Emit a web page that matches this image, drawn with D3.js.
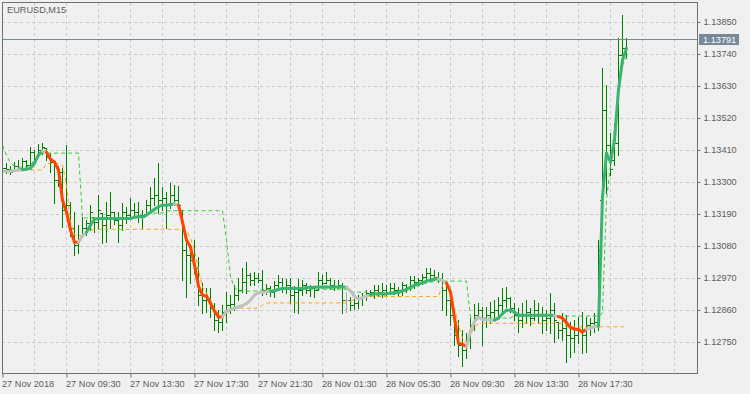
<!DOCTYPE html>
<html><head><meta charset="utf-8">
<script src="https://cdn.jsdelivr.net/npm/d3@7"></script>
<style>
html,body{margin:0;padding:0;background:#f0f0f0;overflow:hidden;}
svg{display:block;}
</style></head><body>
<svg id="chart" width="750" height="394"></svg>
<script>
// ---------------- DATA ----------------
const symbolTitle = "EURUSD,M15";
const timeLabels = ["27 Nov 2018","27 Nov 09:30","27 Nov 13:30","27 Nov 17:30","27 Nov 21:30","28 Nov 01:30","28 Nov 05:30","28 Nov 09:30","28 Nov 13:30","28 Nov 17:30"];
const timeLabelBars = [0,16,32,48,64,80,96,112,128,144];
const priceTicks = [1.12750,1.12860,1.12970,1.13080,1.13190,1.13300,1.13410,1.13520,1.13630,1.13740,1.13850];
const lastPrice = 1.13791;

const open = [1.13360,1.13349,1.13343,1.13339,1.13356,1.13349,1.13373,1.13360,1.13404,1.13391,
 1.13411,1.13418,1.13387,1.13370,1.13308,1.13336,1.13205,1.13222,1.13143,1.13085,
 1.13112,1.13143,1.13160,1.13181,1.13164,1.13195,1.13153,1.13188,1.13198,1.13171,
 1.13153,1.13198,1.13188,1.13205,1.13198,1.13188,1.13191,1.13222,1.13246,1.13257,
 1.13239,1.13246,1.13222,1.13257,1.13239,1.13205,1.13067,1.13050,1.13033,1.13006,
 1.12913,1.12896,1.12902,1.12868,1.12827,1.12820,1.12854,1.12878,1.12882,1.12913,
 1.12930,1.12957,1.12982,1.12964,1.12971,1.12964,1.12930,1.12937,1.12923,1.12947,
 1.12957,1.12937,1.12947,1.12913,1.12923,1.12930,1.12947,1.12930,1.12937,1.12930,
 1.12964,1.12954,1.12964,1.12947,1.12940,1.12947,1.12896,1.12896,1.12878,1.12885,
 1.12902,1.12909,1.12920,1.12923,1.12930,1.12923,1.12930,1.12923,1.12937,1.12930,
 1.12927,1.12947,1.12940,1.12964,1.12957,1.12964,1.12975,1.12988,1.12982,1.12975,
 1.12971,1.12930,1.12896,1.12844,1.12775,1.12741,1.12724,1.12758,1.12810,1.12844,
 1.12861,1.12834,1.12844,1.12854,1.12861,1.12878,1.12896,1.12902,1.12868,1.12844,
 1.12827,1.12844,1.12854,1.12834,1.12861,1.12844,1.12827,1.12834,1.12861,1.12820,
 1.12792,1.12799,1.12775,1.12765,1.12775,1.12792,1.12775,1.12810,1.12817,1.12820,
 1.13239,1.13549,1.13428,1.13377,1.13435,1.13738,1.13762];

const high = [1.13384,1.13367,1.13356,1.13370,1.13377,1.13384,1.13377,1.13422,1.13411,1.13432,
 1.13435,1.13418,1.13401,1.13370,1.13356,1.13349,1.13428,1.13233,1.13198,1.13153,
 1.13181,1.13171,1.13222,1.13181,1.13257,1.13195,1.13233,1.13267,1.13198,1.13198,
 1.13229,1.13215,1.13246,1.13229,1.13233,1.13205,1.13239,1.13284,1.13315,1.13367,
 1.13284,1.13267,1.13298,1.13291,1.13288,1.13205,1.13102,1.13085,1.13102,1.13043,
 1.12954,1.12937,1.12937,1.12885,1.12861,1.12878,1.12923,1.12913,1.12947,1.12971,
 1.13006,1.13026,1.12988,1.12992,1.12988,1.12999,1.12951,1.12944,1.12961,1.12982,
 1.12971,1.12968,1.12971,1.12944,1.12968,1.12964,1.12954,1.12947,1.12940,1.12992,
 1.12982,1.12992,1.12971,1.12964,1.12964,1.12954,1.12923,1.12906,1.12899,1.12913,
 1.12920,1.12930,1.12930,1.12947,1.12947,1.12954,1.12947,1.12954,1.12954,1.12940,
 1.12957,1.12951,1.12978,1.12978,1.12971,1.12985,1.13006,1.13006,1.12999,1.12992,
 1.12988,1.12957,1.12913,1.12868,1.12827,1.12792,1.12782,1.12834,1.12882,1.12885,
 1.12872,1.12872,1.12889,1.12896,1.12906,1.12937,1.12940,1.12906,1.12885,1.12868,
 1.12885,1.12896,1.12868,1.12896,1.12885,1.12872,1.12861,1.12920,1.12885,1.12820,
 1.12851,1.12844,1.12820,1.12827,1.12837,1.12854,1.12837,1.12834,1.12851,1.13102,
 1.13693,1.13635,1.13470,1.13504,1.13796,1.13875,1.13796];

const low = [1.13343,1.13332,1.13329,1.13339,1.13343,1.13349,1.13349,1.13349,1.13367,1.13391,
 1.13398,1.13377,1.13336,1.13229,1.13288,1.13147,1.13188,1.13116,1.13050,1.13057,
 1.13112,1.13119,1.13136,1.13129,1.13143,1.13092,1.13095,1.13143,1.13157,1.13095,
 1.13136,1.13160,1.13178,1.13181,1.13164,1.13143,1.13191,1.13205,1.13222,1.13195,
 1.13205,1.13143,1.13212,1.13222,1.13215,1.12964,1.12906,1.12954,1.12988,1.12878,
 1.12851,1.12854,1.12837,1.12792,1.12786,1.12792,1.12820,1.12851,1.12861,1.12896,
 1.12923,1.12920,1.12947,1.12947,1.12957,1.12913,1.12916,1.12909,1.12906,1.12937,
 1.12923,1.12920,1.12885,1.12854,1.12851,1.12913,1.12920,1.12909,1.12906,1.12930,
 1.12937,1.12954,1.12933,1.12930,1.12937,1.12851,1.12854,1.12861,1.12865,1.12868,
 1.12878,1.12896,1.12909,1.12902,1.12909,1.12906,1.12913,1.12916,1.12916,1.12909,
 1.12913,1.12923,1.12930,1.12937,1.12947,1.12951,1.12957,1.12964,1.12964,1.12957,
 1.12861,1.12844,1.12810,1.12741,1.12703,1.12669,1.12696,1.12731,1.12792,1.12834,
 1.12741,1.12803,1.12817,1.12827,1.12844,1.12851,1.12872,1.12854,1.12827,1.12786,
 1.12803,1.12817,1.12810,1.12827,1.12817,1.12782,1.12792,1.12782,1.12751,1.12765,
 1.12758,1.12682,1.12700,1.12717,1.12748,1.12713,1.12717,1.12775,1.12786,1.12792,
 1.13239,1.13263,1.13325,1.13360,1.13394,1.13714,1.13728];

const close = [1.13349,1.13343,1.13336,1.13356,1.13349,1.13373,1.13360,1.13404,1.13384,1.13411,
 1.13422,1.13387,1.13370,1.13308,1.13336,1.13205,1.13222,1.13143,1.13085,1.13102,
 1.13143,1.13160,1.13198,1.13164,1.13205,1.13153,1.13188,1.13198,1.13171,1.13153,
 1.13198,1.13188,1.13205,1.13198,1.13188,1.13178,1.13222,1.13246,1.13257,1.13239,
 1.13246,1.13222,1.13257,1.13239,1.13222,1.13067,1.13050,1.13033,1.13006,1.12913,
 1.12896,1.12902,1.12868,1.12827,1.12820,1.12854,1.12878,1.12882,1.12913,1.12930,
 1.12957,1.12982,1.12964,1.12971,1.12964,1.12930,1.12937,1.12923,1.12947,1.12957,
 1.12937,1.12947,1.12913,1.12923,1.12930,1.12947,1.12930,1.12937,1.12930,1.12964,
 1.12954,1.12964,1.12947,1.12940,1.12947,1.12896,1.12896,1.12878,1.12885,1.12902,
 1.12909,1.12920,1.12923,1.12930,1.12923,1.12930,1.12923,1.12937,1.12930,1.12927,
 1.12947,1.12940,1.12964,1.12957,1.12964,1.12975,1.12988,1.12982,1.12975,1.12971,
 1.12930,1.12896,1.12844,1.12775,1.12741,1.12724,1.12758,1.12810,1.12844,1.12861,
 1.12834,1.12844,1.12854,1.12861,1.12878,1.12896,1.12902,1.12868,1.12844,1.12827,
 1.12844,1.12854,1.12834,1.12861,1.12844,1.12827,1.12834,1.12861,1.12827,1.12792,
 1.12799,1.12775,1.12765,1.12775,1.12792,1.12775,1.12810,1.12817,1.12820,1.13067,
 1.13549,1.13428,1.13343,1.13435,1.13738,1.13762,1.13791];

const trendLine = [1.13339,1.13339,1.13339,1.13341,1.13343,1.13344,1.13346,1.13349,1.13367,1.13394,
 1.13408,1.13404,1.13380,1.13370,1.13343,1.13239,1.13198,1.13136,1.13095,1.13095,
 1.13116,1.13129,1.13153,1.13174,1.13176,1.13176,1.13176,1.13176,1.13176,1.13176,
 1.13176,1.13176,1.13176,1.13181,1.13182,1.13182,1.13188,1.13198,1.13208,1.13217,
 1.13222,1.13222,1.13224,1.13227,1.13222,1.13164,1.13102,1.13078,1.13016,1.12944,
 1.12913,1.12909,1.12885,1.12858,1.12838,1.12838,1.12858,1.12863,1.12868,1.12872,
 1.12877,1.12884,1.12896,1.12913,1.12921,1.12923,1.12924,1.12926,1.12928,1.12932,
 1.12936,1.12936,1.12936,1.12936,1.12936,1.12936,1.12939,1.12939,1.12940,1.12941,
 1.12941,1.12941,1.12941,1.12941,1.12941,1.12941,1.12940,1.12927,1.12909,1.12899,
 1.12904,1.12909,1.12914,1.12918,1.12918,1.12918,1.12918,1.12920,1.12921,1.12923,
 1.12928,1.12932,1.12940,1.12947,1.12952,1.12956,1.12961,1.12964,1.12969,1.12968,
 1.12964,1.12954,1.12923,1.12834,1.12747,1.12744,1.12735,1.12789,1.12822,1.12837,
 1.12829,1.12827,1.12827,1.12827,1.12834,1.12849,1.12861,1.12861,1.12854,1.12844,
 1.12844,1.12844,1.12844,1.12844,1.12844,1.12844,1.12844,1.12844,1.12842,1.12839,
 1.12834,1.12818,1.12801,1.12796,1.12795,1.12786,1.12796,1.12800,1.12804,1.12806,
 1.13251,1.13401,1.13370,1.13446,1.13618,1.13721,1.13761];

// u = rising (green), d = falling (red), f = flat (grey)
const trendState = ("ffffff" + "uuuuu" + "f" + "dddddddd" + "ff" +
  "uuuuuuuuuuuuuuuuuuuuuu" + "f" + "ddddddddddd" + "ffffffffffff" +
  "uuuuuuuuuuuuuuuuuuu" + "ffffff" + "uuuuuuuuuuuuuuuuu" + "ff" + "ddddd" +
  "fffffff" + "uuuuuuuuuuuuuuu" + "f" + "ddddddd" + "fff" + "uuuuuuu").split("");

const upperBand = [1.13428,1.13394,1.13367,1.13356,1.13353,1.13353,1.13353,1.13360,1.13377,1.13394,
 1.13401,1.13401,1.13401,1.13401,1.13401,1.13401,1.13401,1.13401,1.13401,1.13401,
 1.13178,1.13178,1.13178,1.13178,1.13178,1.13178,1.13178,1.13178,1.13178,1.13178,
 1.13178,1.13178,1.13178,1.13178,1.13178,1.13181,1.13188,1.13195,1.13195,1.13195,
 1.13195,1.13202,1.13203,1.13203,1.13203,1.13203,1.13203,1.13203,1.13203,1.13203,
 1.13203,1.13203,1.13203,1.13203,1.13203,1.13203,1.13102,1.12975,1.12940,1.12927,
 1.12927,1.12927,1.12927,1.12927,1.12927,1.12933,1.12933,1.12933,1.12933,1.12933,
 1.12933,1.12933,1.12933,1.12933,1.12933,1.12933,1.12933,1.12933,1.12933,1.12933,
 1.12933,1.12933,1.12933,1.12933,1.12933,1.12933,1.12933,1.12923,1.12923,1.12923,
 1.12923,1.12923,1.12909,1.12913,1.12913,1.12913,1.12913,1.12915,1.12916,1.12918,
 1.12923,1.12927,1.12933,1.12940,1.12945,1.12951,1.12954,1.12957,1.12961,1.12961,
 1.12961,1.12961,1.12961,1.12961,1.12961,1.12961,1.12961,1.12837,1.12834,1.12834,
 1.12834,1.12834,1.12834,1.12834,1.12834,1.12834,1.12834,1.12834,1.12841,1.12841,
 1.12841,1.12841,1.12841,1.12841,1.12841,1.12841,1.12841,1.12841,1.12841,1.12841,
 1.12841,1.12841,1.12841,1.12841,1.12841,1.12841,1.12841,1.12841,1.12841,1.12841,
 1.12851,1.13239,1.13360,1.13480,1.13635,1.13704,1.13731];

const lowerBand = [1.13339,1.13339,1.13339,1.13339,1.13341,1.13341,1.13343,1.13343,1.13343,1.13343,
 1.13343,1.13365,1.13366,1.13366,1.13366,1.13360,1.13291,1.13164,1.13119,1.13119,
 1.13116,1.13126,1.13139,1.13139,1.13139,1.13139,1.13139,1.13139,1.13139,1.13139,
 1.13139,1.13139,1.13139,1.13139,1.13139,1.13139,1.13139,1.13139,1.13139,1.13139,
 1.13139,1.13139,1.13139,1.13139,1.13139,1.13139,1.13133,1.13109,1.13067,1.12999,
 1.12940,1.12920,1.12896,1.12865,1.12847,1.12841,1.12851,1.12858,1.12865,1.12868,
 1.12868,1.12868,1.12868,1.12868,1.12869,1.12878,1.12886,1.12886,1.12886,1.12886,
 1.12886,1.12886,1.12886,1.12886,1.12886,1.12886,1.12886,1.12886,1.12886,1.12886,
 1.12886,1.12886,1.12886,1.12886,1.12886,1.12886,1.12886,1.12892,1.12897,1.12902,
 1.12906,1.12908,1.12908,1.12908,1.12908,1.12908,1.12908,1.12908,1.12908,1.12908,
 1.12908,1.12908,1.12908,1.12908,1.12908,1.12908,1.12908,1.12908,1.12908,1.12908,
 1.12947,1.12957,1.12930,1.12868,1.12810,1.12765,1.12751,1.12775,1.12806,1.12813,
 1.12816,1.12816,1.12816,1.12816,1.12816,1.12816,1.12816,1.12816,1.12816,1.12816,
 1.12816,1.12816,1.12816,1.12816,1.12816,1.12816,1.12816,1.12816,1.12816,1.12816,
 1.12816,1.12804,1.12804,1.12804,1.12804,1.12804,1.12804,1.12804,1.12804,1.12804,
 1.12804,1.12804,1.12804,1.12804,1.12804,1.12804,1.12804];

// ---------------- CHART ----------------
const W = 750, H = 394;
const FONT = '"Liberation Sans", Arial, sans-serif';
const TXT = '#5c5c5c';
const n = close.length;
const svg = d3.select('#chart');
svg.append('rect').attr('width', W).attr('height', H).attr('fill', '#f0f0f0');

const x = d3.scaleLinear().domain([0, n - 1]).range([2.5, 626.5]);
const y = d3.scaleLinear().domain([1.12750, 1.13850]).range([342.5, 22.5]);
const snap = v => Math.round(v - 0.5) + 0.5;

svg.append('clipPath').attr('id', 'plotClip')
  .append('rect').attr('x', 3).attr('y', 3).attr('width', 694).attr('height', 370);

const grid = svg.append('g').attr('clip-path', 'url(#plotClip)');
grid.selectAll('line.h').data(priceTicks).join('line')
  .attr('x1', 2).attr('x2', 697)
  .attr('y1', d => snap(y(d))).attr('y2', d => snap(y(d)))
  .attr('stroke', '#c8c8c8').attr('stroke-dasharray', '3,3');
const gridBars = d3.range(0, 176, 8);
grid.selectAll('line.v').data(gridBars).join('line')
  .attr('x1', d => x(d)).attr('x2', d => x(d))
  .attr('y1', 3).attr('y2', 373)
  .attr('stroke', '#c8c8c8').attr('stroke-dasharray', '3,3');

const plot = svg.append('g').attr('clip-path', 'url(#plotClip)');

// OHLC bars
const barG = plot.append('g');
const idx = d3.range(n);
const barColor = i => open[i] === close[i] ? '#a8a8a8' : '#008000';
barG.selectAll('line.hl').data(idx).join('line')
  .attr('x1', i => x(i)).attr('x2', i => x(i))
  .attr('y1', i => Math.round(y(high[i]))).attr('y2', i => Math.round(y(low[i])) + 1)
  .attr('stroke', barColor).attr('stroke-width', 1);
barG.selectAll('line.o').data(idx).join('line')
  .attr('x1', i => x(i) - 2.5).attr('x2', i => x(i) - 0.5)
  .attr('y1', i => snap(y(open[i]))).attr('y2', i => snap(y(open[i])))
  .attr('stroke', barColor).attr('stroke-width', 1);
barG.selectAll('line.c').data(idx).join('line')
  .attr('x1', i => x(i) + 0.5).attr('x2', i => x(i) + 2.5)
  .attr('y1', i => snap(y(close[i]))).attr('y2', i => snap(y(close[i])))
  .attr('stroke', barColor).attr('stroke-width', 1);

// dashed bands
const line = d3.line().x((d, i) => x(i)).y(d => y(d));
plot.append('path').attr('d', line(upperBand)).attr('fill', 'none')
  .attr('stroke', '#32cd32').attr('stroke-width', 1).attr('stroke-dasharray', '4,3');
plot.append('path').attr('d', line(lowerBand)).attr('fill', 'none')
  .attr('stroke', '#ffa500').attr('stroke-width', 1).attr('stroke-dasharray', '4,3');

// coloured trend line
const stateColor = { u: '#3cb371', d: '#ff4500', f: '#c0c0c0' };
const segs = d3.range(1, n).map(i => ({ i, pts: [[x(i - 1), y(trendLine[i - 1])], [x(i), y(trendLine[i])]] }));
const segLine = d3.line();
plot.append('g').selectAll('path').data(segs).join('path')
  .attr('d', s => segLine(s.pts)).attr('fill', 'none')
  .attr('stroke', s => stateColor[trendState[s.i]])
  .attr('stroke-width', 3).attr('stroke-linecap', 'round').attr('stroke-linejoin', 'round');

// bid line
const bidY = snap(y(lastPrice));
svg.append('line').attr('x1', 2).attr('x2', 697).attr('y1', bidY).attr('y2', bidY)
  .attr('stroke', '#778899').attr('stroke-width', 1);

// frame
svg.append('rect').attr('x', 2.5).attr('y', 2.5).attr('width', 695).attr('height', 371)
  .attr('fill', 'none').attr('stroke', '#707070').attr('stroke-width', 1);

// y axis
const yAxis = d3.axisRight(y).tickValues(priceTicks).tickFormat(d3.format('.5f')).tickSize(3).tickPadding(3);
const gy = svg.append('g').attr('transform', 'translate(697.5,0)').call(yAxis);
gy.select('.domain').remove();
gy.selectAll('.tick').attr('transform', d => `translate(0,${snap(y(d))})`);
gy.selectAll('line').attr('stroke', '#707070');
gy.selectAll('text').attr('fill', TXT).style('font-family', FONT).style('font-size', '9.2px');

// price label
svg.append('rect').attr('x', 699).attr('y', bidY - 5.5).attr('width', 40).attr('height', 11).attr('fill', '#778899');
svg.append('text').attr('x', 703).attr('y', bidY).attr('dy', '0.34em')
  .attr('fill', '#ffffff').style('font-family', FONT).style('font-size', '9.2px')
  .text(d3.format('.5f')(lastPrice));

// x axis
const xAxis = d3.axisBottom(x).tickValues(timeLabelBars).tickFormat((d, i) => timeLabels[i]).tickSize(4).tickPadding(3);
const gx = svg.append('g').attr('transform', 'translate(0,373.5)').call(xAxis);
gx.select('.domain').remove();
gx.selectAll('line').attr('stroke', '#707070');
gx.selectAll('text').attr('text-anchor', 'start').attr('x', -1)
  .attr('fill', TXT).style('font-family', FONT).style('font-size', '9.2px');

// title
svg.append('text').attr('x', 7).attr('y', 13).attr('fill', TXT)
  .style('font-family', FONT).style('font-size', '9.2px').text(symbolTitle);
</script>
</body></html>
